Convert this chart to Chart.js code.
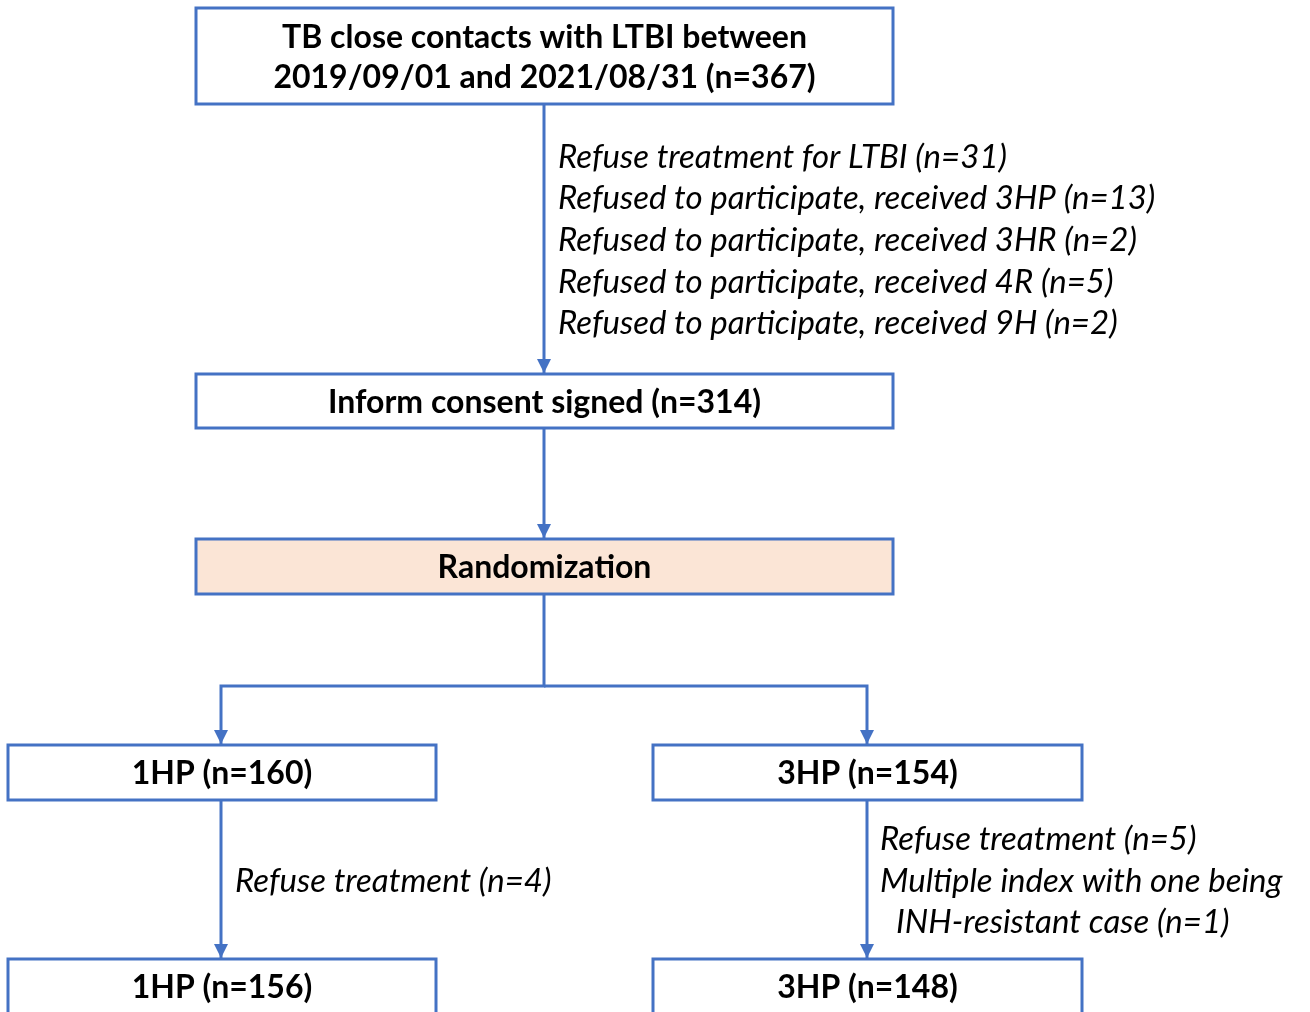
<!DOCTYPE html>
<html>
<head>
<meta charset="utf-8">
<script src="https://cdn.jsdelivr.net/npm/chart.js@4.4.1/dist/chart.umd.min.js"></script>
<style>
  html, body { margin: 0; padding: 0; background: #fff; }
  #wrap { width: 1310px; height: 1012px; }
</style>
</head>
<body>
<div id="wrap"><canvas id="flow" width="1310" height="1012"></canvas></div>
<script>
// flow chart nodes (one entry per box)
const nodeText = [
  ["TB close contacts with LTBI between", "2019/09/01 and 2021/08/31 (n=367)"],
  ["Inform consent signed (n=314)"],
  ["Randomization"],
  ["1HP (n=160)"],
  ["3HP (n=154)"],
  ["1HP (n=156)"],
  ["3HP (n=148)"]
];
const nodeLeft   = [196, 196, 196, 8, 653, 8, 653];
const nodeRight  = [893, 893, 893, 436, 1082, 436, 1082];
const nodeTop    = [8, 374, 539, 745, 745, 959, 959];
const nodeBottom = [104, 428, 594, 800, 800, 1030, 1030];
const nodeFill   = ["#ffffff", "#ffffff", "#fbe5d6", "#ffffff", "#ffffff", "#ffffff", "#ffffff"];

// connectors, as polylines; the last point of an arrowed one is the tip
const links = [
  [[544, 104], [544, 373]],
  [[544, 428], [544, 538]],
  [[544, 594], [544, 686], [221, 686], [221, 744]],
  [[544, 686], [867, 686], [867, 744]],
  [[221, 800], [221, 958]],
  [[867, 800], [867, 958]]
];
const linkArrow = [true, true, true, true, true, true];

// exclusion notes beside the arrows
const noteLines = [
  "Refuse treatment for LTBI (n=31)",
  "Refused to participate, received 3HP (n=13)",
  "Refused to participate, received 3HR (n=2)",
  "Refused to participate, received 4R (n=5)",
  "Refused to participate, received 9H (n=2)",
  "Refuse treatment (n=4)",
  "Refuse treatment (n=5)",
  "Multiple index with one being",
  "INH-resistant case (n=1)"
];
const noteX = [558, 558, 558, 558, 558, 235, 880, 880, 896];
const noteY = [157, 198, 240, 282, 323, 881, 839, 881, 922];

const BLUE = "#4472c4";
const BOLD_FONT = "bold 32px Lato";
const NOTE_FONT = "italic 33px Lato";

const flowPlugin = {
  id: "flowBoxes",
  beforeDatasetsDraw(chart) {
    const { ctx, scales: { x, y } } = chart;
    ctx.save();
    nodeText.forEach((lines, i) => {
      const x0 = x.getPixelForValue(nodeLeft[i]);
      const x1 = x.getPixelForValue(nodeRight[i]);
      const y0 = y.getPixelForValue(nodeTop[i]);
      const y1 = y.getPixelForValue(nodeBottom[i]);
      ctx.fillStyle = nodeFill[i];
      ctx.fillRect(x0, y0, x1 - x0, y1 - y0);
      ctx.strokeStyle = BLUE;
      ctx.lineWidth = 3;
      ctx.strokeRect(x0, y0, x1 - x0, y1 - y0);
    });
    ctx.restore();
  },
  afterDatasetsDraw(chart) {
    const { ctx, scales: { x, y } } = chart;
    ctx.save();
    // arrow heads
    ctx.fillStyle = BLUE;
    links.forEach((pts, i) => {
      if (!linkArrow[i]) return;
      const tip = pts[pts.length - 1];
      const tx = x.getPixelForValue(tip[0]);
      const ty = y.getPixelForValue(tip[1]);
      ctx.beginPath();
      ctx.moveTo(tx, ty);
      ctx.lineTo(tx - 7, ty - 14);
      ctx.lineTo(tx + 7, ty - 14);
      ctx.closePath();
      ctx.fill();
    });
    // box labels
    ctx.fillStyle = "#000";
    ctx.font = BOLD_FONT;
    ctx.textAlign = "center";
    ctx.textBaseline = "middle";
    nodeText.forEach((lines, i) => {
      const cx = x.getPixelForValue((nodeLeft[i] + nodeRight[i]) / 2);
      const bottom = Math.min(nodeBottom[i], 1014);
      const cy = y.getPixelForValue((nodeTop[i] + bottom) / 2) + 1.5;
      const gap = 40;
      lines.forEach((t, k) => {
        ctx.fillText(t, cx, cy + (k - (lines.length - 1) / 2) * gap);
      });
    });
    // notes
    ctx.font = NOTE_FONT;
    ctx.textAlign = "left";
    noteLines.forEach((t, i) => {
      ctx.fillText(t, x.getPixelForValue(noteX[i]), y.getPixelForValue(noteY[i]));
    });
    ctx.restore();
  }
};

new Chart(document.getElementById("flow").getContext("2d"), {
  type: "line",
  data: {
    datasets: links.map(pts => ({
      data: pts.map(p => ({ x: p[0], y: p[1] })),
      borderColor: BLUE,
      borderWidth: 3,
      pointRadius: 0,
      tension: 0,
      fill: false
    }))
  },
  options: {
    responsive: false,
    animation: false,
    layout: { padding: 0 },
    plugins: {
      legend: { display: false },
      tooltip: { enabled: false },
      title: { display: false }
    },
    scales: {
      x: { type: "linear", min: 0, max: 1310, display: false },
      y: { type: "linear", min: 0, max: 1012, reverse: true, display: false }
    }
  },
  plugins: [flowPlugin]
});
</script>
</body>
</html>
